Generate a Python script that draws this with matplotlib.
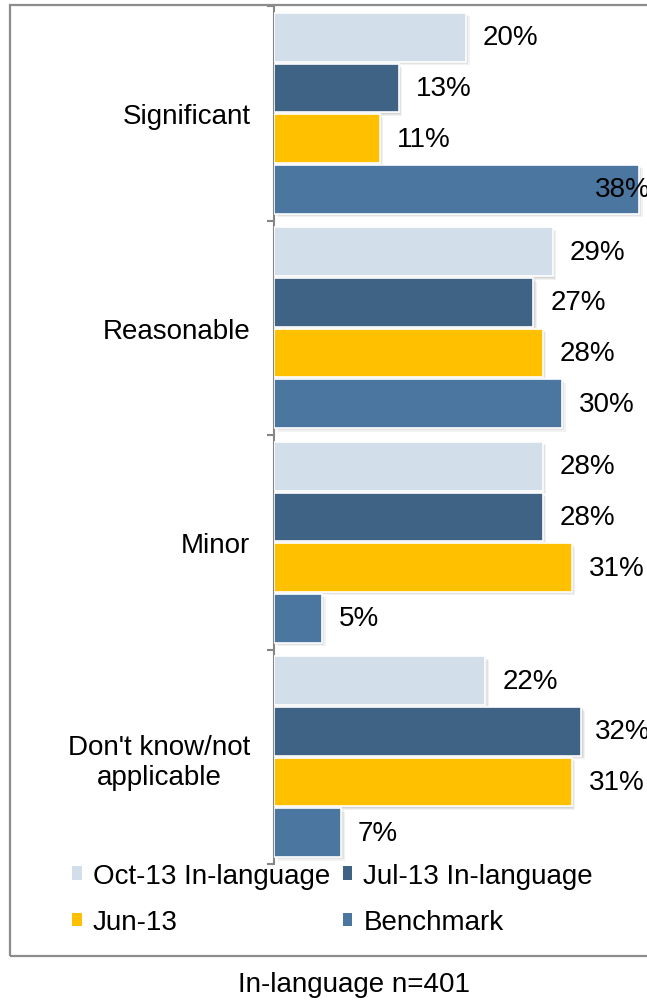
import matplotlib
matplotlib.use("Agg")
import matplotlib.pyplot as plt
from matplotlib.patches import Rectangle

plt.rcParams['font.family'] = ['Liberation Sans', 'DejaVu Sans']

categories = ["Significant", "Reasonable", "Minor", "Don't know/not\napplicable"]
series_names = ["Oct-13 In-language", "Jul-13 In-language", "Jun-13", "Benchmark"]
oct13 = [20, 29, 28, 22]
jul13 = [13, 27, 28, 32]
jun13 = [11, 28, 31, 31]
benchmark = [38, 30, 5, 7]
series_values = [oct13, jul13, jun13, benchmark]
colors = ["#D3DEEB", "#3E6385", "#FFC000", "#4A76A0"]
caption = "In-language n=401"

W, H = 647, 1003
fig = plt.figure(figsize=(W / 100, H / 100), dpi=100)

ax_left, ax_right_px = 274, 647
ax_top, ax_bot = 7, 865
ax = fig.add_axes([ax_left / W, 1 - ax_bot / H, (ax_right_px - ax_left) / W, (ax_bot - ax_top) / H])

px_per_unit = (639 - 274) / 38.0
xmax = (ax_right_px - ax_left) / px_per_unit
ax.set_xlim(0, xmax)
ax.set_ylim(len(categories), 0)

group_w = 0.943
pitch = group_w / 4
bar_h = 0.228
off0 = (1 - group_w) / 2

# shadow offsets in data units
sx = 3.5 / px_per_unit
sy = 3.5 / ((ax_bot - ax_top) / len(categories))

for j, vals in enumerate(series_values):
    ys = [i + off0 + (j + 0.5) * pitch for i in range(len(categories))]
    for k, a in enumerate([0.06, 0.06, 0.05]):
        f = (k + 1) / 3
        ax.barh([y + sy * f for y in ys], vals, left=sx * f, height=bar_h,
                color="black", alpha=a, linewidth=0, zorder=1)
    ax.barh(ys, vals, height=bar_h, color=colors[j], edgecolor="white",
            linewidth=1.2, zorder=3, label=series_names[j])
    for y, v in zip(ys, vals):
        lx = min(v + 1.75, 33.4)
        ax.text(lx, y, f"{v}%", ha="left", va="center", fontsize=20,
                color="black", zorder=5, clip_on=False)

# axis styling
for s in ["top", "right", "bottom"]:
    ax.spines[s].set_visible(False)
ax.spines["left"].set_color("#868686")
ax.spines["left"].set_linewidth(1.5)
ax.set_xticks([])
ax.set_yticks(range(len(categories) + 1))
ax.set_yticklabels([])
ax.tick_params(axis="y", which="major", length=5, width=1.5, color="#868686", direction="out")
ax.set_yticks([i + 0.5 for i in range(len(categories))], minor=True)
ax.set_yticklabels(categories, minor=True, fontsize=20, multialignment="center")
ax.tick_params(axis="y", which="minor", length=0, pad=17)
ax.patch.set_alpha(0)

# legend (row-wise order: Oct, Jul / Jun, Benchmark)
handles = [Rectangle((0, 0), 1, 1, facecolor=c, edgecolor="none") for c in colors]
order = [0, 2, 1, 3]
fig.legend([handles[i] for i in order], [series_names[i] for i in order], loc="upper left",
           bbox_to_anchor=(72 / W, 1 - 864 / H), ncol=2, frameon=False,
           fontsize=20, handlelength=0.35, handleheight=0.35, handletextpad=0.4,
           columnspacing=0.45, labelspacing=0.73, borderpad=0, borderaxespad=0)

# outer frame
fig.patches.append(Rectangle((10 / W, 1 - 957 / H), 2.0, (957 - 6) / H,
                             transform=fig.transFigure, fill=False,
                             edgecolor="#8C8C8C", linewidth=1.6, zorder=0))

fig.text(354 / W, 1 - 985 / H, caption, ha="center", va="center", fontsize=20)

fig.savefig("out.png", dpi=100)
